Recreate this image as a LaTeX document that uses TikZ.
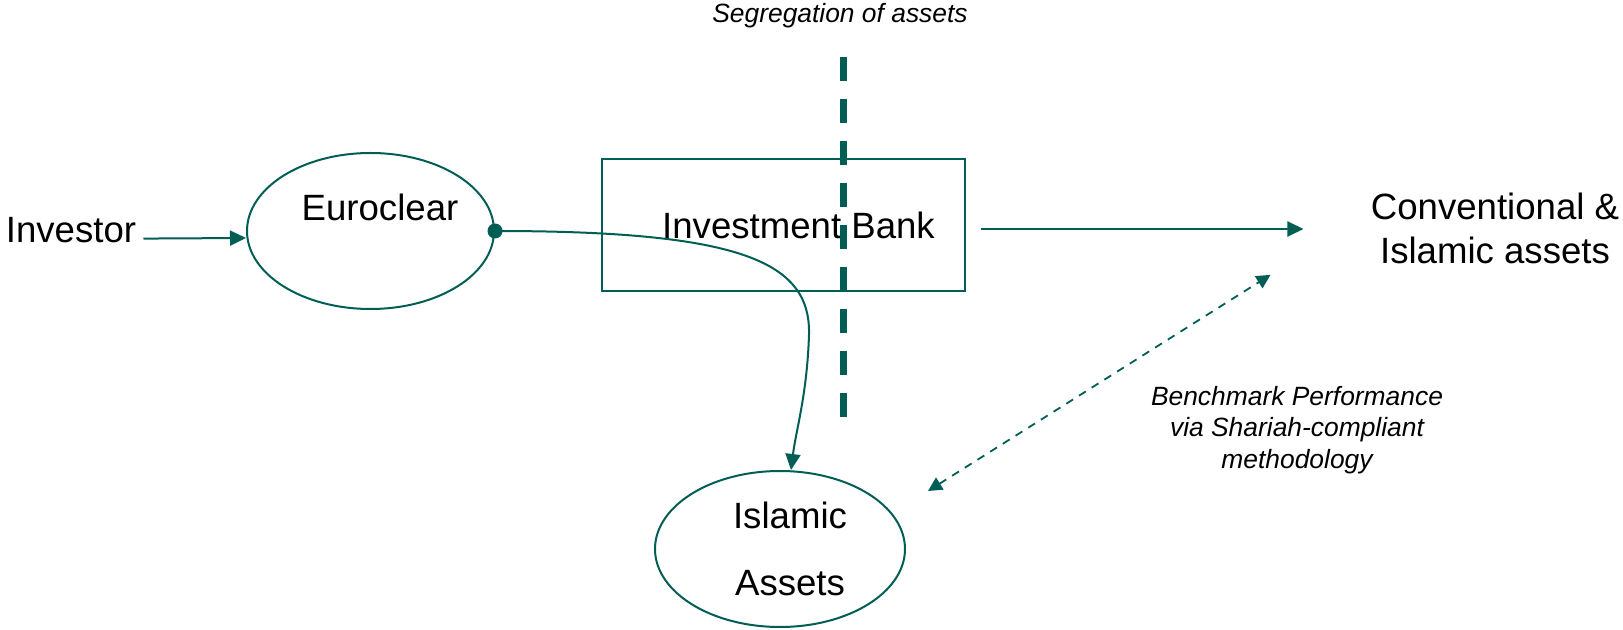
\documentclass[tikz,border=0pt]{standalone}
\usepackage{fontspec}
\setmainfont{Liberation Sans}
\usetikzlibrary{arrows.meta,shapes.geometric,calc}
\definecolor{deepteal}{RGB}{0,94,84}

\begin{document}
\begin{tikzpicture}[x=0.5pt, y=-0.5pt,
  every node/.style = {inner sep=0pt, font=\fontsize{18.3pt}{22pt}\selectfont},
  entity/.style = {ellipse, draw=deepteal, line width=1pt, minimum width=123.5pt, minimum height=78pt},
  bankbox/.style = {rectangle, draw=deepteal, line width=1.1pt, minimum width=181.5pt, minimum height=66pt},
  note/.style = {font=\fontsize{13.2pt}{15.8pt}\itshape\selectfont, align=center},
  flow/.style = {draw=deepteal, line width=1pt, -{Triangle[length=8pt, width=7.5pt]}},
  bench/.style = {draw=deepteal, line width=0.9pt, dash pattern=on 4pt off 3.5pt,
                  {Triangle[length=7pt, width=7pt]}-{Triangle[length=7pt, width=7pt]}},
  divider/.style = {draw=deepteal, line width=3.5pt, dash pattern=on 12pt off 9pt},
  ]
  \useasboundingbox (0,0) rectangle (1623,630);

  \node[anchor=base] (investor) at (71,243) {Investor};
  \node[entity] (euroclear) at (370.5,231) {};
  \node[anchor=base] (euroclear-text) at (380,221) {Euroclear};
  \node[bankbox] (bank) at (783.5,225) {\hspace*{15pt}Investment Bank};
  \node[align=center] (conv) at (1495,228) {Conventional \&\\Islamic assets};
  \node[entity, minimum width=125pt, align=center, font=\fontsize{18.3pt}{33.5pt}\selectfont]
    (islamic) at (780,549) {\hspace*{10pt}Islamic\\\hspace*{10pt}Assets};
  \node[note, anchor=base] (segregation) at (840,23) {Segregation of assets};
  \node[note] (benchmark) at (1297,430) {Benchmark Performance\\via Shariah-compliant\\methodology};

  \draw[divider] (843,57) -- (843,417);

  \draw[flow] ([shift={(3.5pt,-4pt)}]investor.east) -- ([yshift=-3.5pt]euroclear.west);
  \draw[flow] ($(bank.east)+(15,4)$) -- ($(bank.east -| conv.west)+(-67,4)$);
  \fill[deepteal] (euroclear.east) circle (3.75pt);
  \draw[flow] (euroclear.east) .. controls +(247,0) and (811,262) .. (809,335)
    .. controls (807,395) and (796,430) .. ([xshift=5.5pt]islamic.north);
  \draw[bench] ($(islamic.east)+(22,-58)$) -- ($(conv.south west)+(-100,11)$);
\end{tikzpicture}
\end{document}
